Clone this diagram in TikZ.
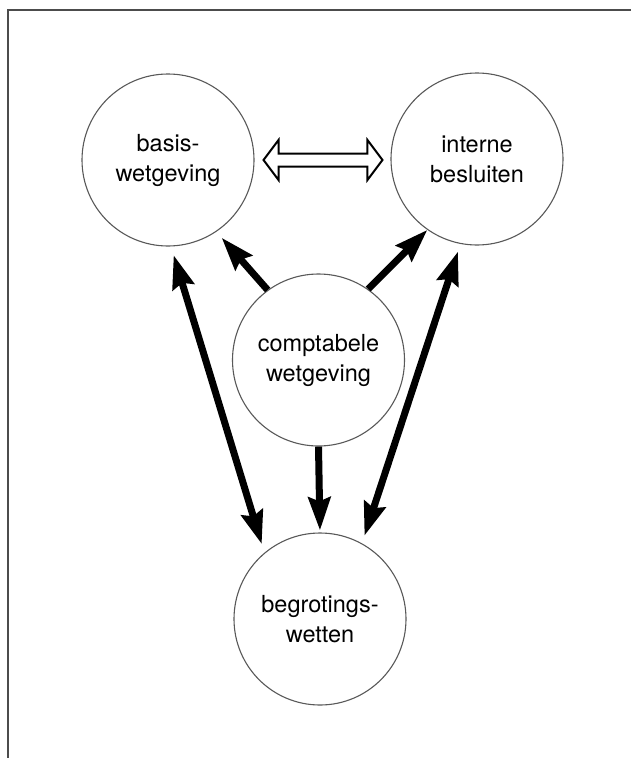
\documentclass[tikz,border=0pt]{standalone}
\usepackage{fontspec}
\setmainfont{TeX Gyre Heros}
\usetikzlibrary{arrows.meta,calc}
\begin{document}
\begin{tikzpicture}[x=1pt,y=-1pt,
  bubble/.style={circle,draw=black!65,line width=1.1pt,minimum size=172pt,inner sep=0pt,
    align=center,font=\fontsize{23.5}{30}\selectfont},
  thickarrow/.style={line width=7pt,-{Stealth[length=33pt,width=22pt,inset=4pt]}},
  thickboth/.style={line width=7pt,{Stealth[length=33pt,width=22pt,inset=4pt]}-{Stealth[length=33pt,width=22pt,inset=4pt]}},
  openarrow/.style={draw=black,line width=2pt,line join=miter,fill=white},
  framestyle/.style={draw=black!70,line width=1.5pt}]
\useasboundingbox (0,0) rectangle (631,758);
\fill[white] (0,0) rectangle (631,758);
\draw[framestyle] (631,10) -- (8,10) -- (8,758);
\node[bubble] (basis) at (168,160) {basis-\\wetgeving};
\node[bubble] (interne) at (477,159) {interne\\besluiten};
\node[bubble] (comp) at (318.5,360) {comptabele\\wetgeving};
\node[bubble] (begr) at (320,619) {begrotings-\\wetten};
% open double-headed arrow between basis and interne
\coordinate (dl) at ($(basis.east)+(9pt,0)$);
\coordinate (dr) at ($(interne.west |- basis.east)+(-8pt,0)$);
\draw[openarrow] (dl) -- ($(dl)+(15,-20)$) -- ($(dl)+(15,-6.5)$)
  -- ($(dr)+(-15,-6.5)$) -- ($(dr)+(-15,-20)$) -- (dr)
  -- ($(dr)+(-15,20)$) -- ($(dr)+(-15,6.5)$)
  -- ($(dl)+(15,6.5)$) -- ($(dl)+(15,20)$) -- cycle;
\draw[thickarrow,shorten >=8pt] (comp.126) -- (basis.-56);
\draw[thickarrow] (comp.55) -- (interne.235.6);
\draw[thickboth,shorten <=9pt,shorten >=9pt] (basis.-88) -- (begr.130);
\draw[thickboth,shorten <=8pt,shorten >=8pt] (interne.259.5) -- (begr.61);
\draw[thickarrow,shorten >=2pt] (comp.south) -- (begr.north);
\end{tikzpicture}
\end{document}
